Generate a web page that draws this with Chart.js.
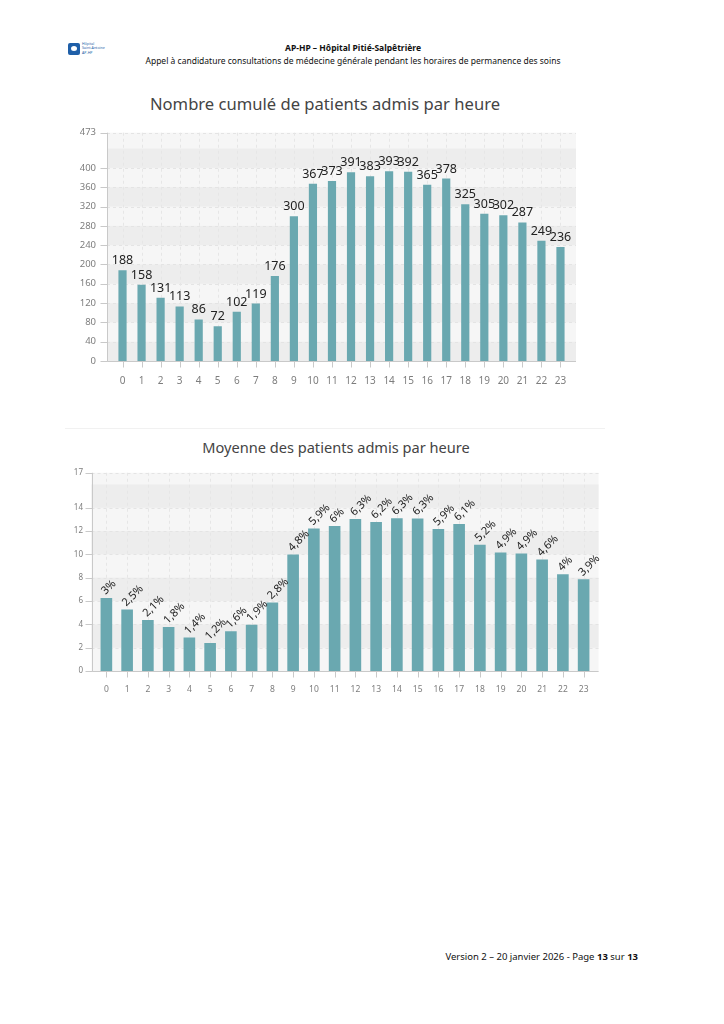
<!DOCTYPE html>
<html lang="fr">
<head>
<meta charset="utf-8">
<script src="https://cdn.jsdelivr.net/npm/chart.js@4.4.1/dist/chart.umd.min.js"></script>
<style>
	body { margin:0; background:#fff; width:724px; height:1024px; position:relative; overflow:hidden; font-family:"Noto Sans", sans-serif; }
	.abs { position:absolute; }
	.head { left:0; width:706px; text-align:center; color:#111; font-size:8.5px; line-height:11px; }
	.title { left:0; text-align:center; color:#444; white-space:nowrap; }
	#logo { left:68px; top:42px; width:42px; height:16px; }
	#logo .sq { position:absolute; left:0; top:1px; width:12px; height:12px; background:#1f5fa8; border-radius:2px; }
	#logo .sq:after { content:""; position:absolute; left:3px; top:3px; width:6px; height:5px; border-radius:50%; background:#fff; }
	#logo .txt { position:absolute; left:14px; top:0; font-size:3.6px; line-height:4.3px; color:#1f5fa8; white-space:nowrap; }
	#foot { right:86px; top:950px; font-size:9.5px; color:#111; white-space:nowrap; }
	#sep { left:65px; top:428px; width:540px; height:0; border-top:1px solid #f1f1f1; }
</style>
</head>
<body>
<div id="logo" class="abs"><div class="sq"></div><div class="txt">Hôpital<br>Saint-Antoine<br>AP-HP</div></div>
<div class="abs head" style="top:42px;font-weight:bold;">AP-HP – Hôpital Pitié-Salpêtrière</div>
<div class="abs head" style="top:55px;">Appel à candidature consultations de médecine générale pendant les horaires de permanence des soins</div>

<div class="abs title" style="top:92px;width:650px;font-size:16.6px;">Nombre cumulé de patients admis par heure</div>
<canvas id="chart1" class="abs" width="560" height="290" style="left:40px;top:110px;"></canvas>

<div id="sep" class="abs"></div>
<div class="abs title" style="top:437px;width:672px;font-size:14.6px;">Moyenne des patients admis par heure</div>
<canvas id="chart2" class="abs" width="600" height="250" style="left:40px;top:455px;"></canvas>

<div id="foot" class="abs">Version 2 – 20 janvier 2026 - Page <b>13</b> sur <b>13</b></div>

<script>
// data
var hours = ["0","1","2","3","4","5","6","7","8","9","10","11","12","13","14","15","16","17","18","19","20","21","22","23"];
var cumulPatients = [188, 158, 131, 113, 86, 72, 102, 119, 176, 300, 367, 373, 391, 383, 393, 392, 365, 378, 325, 305, 302, 287, 249, 236];
var moyennePatients = [6.27, 5.27, 4.37, 3.77, 2.87, 2.40, 3.40, 3.97, 5.87, 10.0, 12.23, 12.43, 13.03, 12.77, 13.1, 13.07, 12.17, 12.6, 10.83, 10.17, 10.07, 9.57, 8.3, 7.87];
var partPatients = [3, 2.5, 2.1, 1.8, 1.4, 1.2, 1.6, 1.9, 2.8, 4.8, 5.9, 6, 6.3, 6.2, 6.3, 6.3, 5.9, 6.1, 5.2, 4.9, 4.9, 4.6, 4, 3.9];
var yTicksCumul = [0, 40, 80, 120, 160, 200, 240, 280, 320, 360, 400, 473];
var yTicksMoyenne = [0, 2, 4, 6, 8, 10, 12, 14, 17];

Chart.defaults.font.family = '"Noto Sans", sans-serif';

/**
 * Bar chart by hour with striped background and labels above the bars
 * @param canvasId
 * @param opt	values, labels, yTicks + layout settings
 */
function do_create_hour_chart(canvasId, opt) {
	var ctx = document.getElementById(canvasId).getContext('2d');

	var backdrop = {
		id: 'backdrop_' + canvasId,
		beforeDatasetsDraw: function(chart) {
			var c = chart.ctx, a = chart.chartArea, sx = chart.scales.x, sy = chart.scales.y;
			var L = a.left - opt.ext, R = a.right + opt.ext;
			var y0 = Math.round(sy.getPixelForValue(sy.min)) + 0.5;
			var yTop = sy.getPixelForValue(sy.max);
			c.save();
			c.fillStyle = "#f6f6f6";
			c.fillRect(L, yTop, R - L, y0 - yTop);
			c.fillStyle = "#ededed";
			for (var v = opt.bandStart; v < sy.max; v += 2 * opt.bandStep) {
				var p1 = sy.getPixelForValue(v), p2 = sy.getPixelForValue(Math.min(v + opt.bandStep, sy.max));
				c.fillRect(L, p2, R - L, p1 - p2);
			}
			c.lineWidth = 1;
			c.setLineDash([3, 3]);
			c.strokeStyle = "#e4e4e4";
			sy.ticks.forEach(function(t) {
				var p = Math.round(sy.getPixelForValue(t.value)) + 0.5;
				c.beginPath(); c.moveTo(L, p); c.lineTo(R, p); c.stroke();
			});
			c.strokeStyle = "#e6e6e6";
			sx.ticks.forEach(function(t, i) {
				var p = Math.round(sx.getPixelForTick(i)) + 0.5;
				c.beginPath(); c.moveTo(p, yTop); c.lineTo(p, y0); c.stroke();
			});
			c.setLineDash([]);
			c.strokeStyle = "#c9c9c9";
			var xl = Math.round(L) + 0.5;
			c.beginPath(); c.moveTo(xl, yTop); c.lineTo(xl, y0); c.lineTo(R, y0); c.stroke();
			sy.ticks.forEach(function(t) {
				var p = Math.round(sy.getPixelForValue(t.value)) + 0.5;
				c.beginPath(); c.moveTo(xl - 7, p); c.lineTo(xl, p); c.stroke();
			});
			sx.ticks.forEach(function(t, i) {
				var p = Math.round(sx.getPixelForTick(i)) + 0.5;
				c.beginPath(); c.moveTo(p, y0); c.lineTo(p, y0 + 6); c.stroke();
			});
			c.restore();
		},
		afterDatasetsDraw: function(chart) {
			var c = chart.ctx;
			var meta = chart.getDatasetMeta(0);
			c.save();
			c.fillStyle = "#222";
			c.font = opt.labelSize + 'px "Noto Sans", sans-serif';
			meta.data.forEach(function(bar, i) {
				var txt = opt.labels[i];
				if (opt.rotate) {
					c.save();
					c.translate(bar.x - 3, bar.y - 5);
					c.rotate(-Math.PI / 4);
					c.textAlign = "left";
					c.textBaseline = "middle";
					c.fillText(txt, 0, 0);
					c.restore();
				} else {
					c.textAlign = "center";
					c.textBaseline = "alphabetic";
					c.fillText(txt, bar.x, bar.y - 6);
				}
			});
			c.restore();
		}
	};

	return new Chart(ctx, {
		type: 'bar',
		data: {
			labels: hours,
			datasets: [{
				data: opt.values,
				backgroundColor: "#6aa8b0",
				barPercentage: opt.barPct,
				categoryPercentage: 1
			}]
		},
		options: {
			responsive: false,
			animation: false,
			layout: { padding: { left: 0, right: opt.padRight, top: opt.padTop, bottom: 0 } },
			plugins: { legend: { display: false }, tooltip: { enabled: false } },
			scales: {
				x: {
					offset: true,
					grid: { display: false, drawTicks: false },
					border: { display: false },
					ticks: { padding: opt.xPad, color: "#7d7d7d", font: { size: opt.xSize }, maxRotation: 0, autoSkip: false },
					afterFit: function(s) { s.height = opt.xHeight; }
				},
				y: {
					min: 0,
					max: opt.yTicks[opt.yTicks.length - 1],
					grid: { display: false, drawTicks: false },
					border: { display: false },
					ticks: { padding: opt.yPad, color: "#7d7d7d", font: { size: opt.ySize }, autoSkip: false },
					afterBuildTicks: function(s) { s.ticks = opt.yTicks.map(function(v) { return { value: v }; }); },
					afterFit: function(s) { s.width = opt.yWidth; }
				}
			}
		},
		plugins: [backdrop]
	});
}

do_create_hour_chart('chart1', {
	values: cumulPatients,
	labels: cumulPatients.map(function(v) { return String(v); }),
	yTicks: yTicksCumul,
	bandStart: 0, bandStep: 40,
	ext: 6, barPct: 0.43,
	yWidth: 73, padRight: 30, padTop: 19, xHeight: 39,
	xPad: 14, yPad: 17, xSize: 10, ySize: 9.5,
	labelSize: 12.5, rotate: false
});

do_create_hour_chart('chart2', {
	values: moyennePatients,
	labels: partPatients.map(function(v) { return String(v).replace('.', ',') + '%'; }),
	yTicks: yTicksMoyenne,
	bandStart: 2, bandStep: 2,
	ext: 4.5, barPct: 0.56,
	yWidth: 56, padRight: 46, padTop: 13, xHeight: 34,
	xPad: 13, yPad: 13, xSize: 8.5, ySize: 8,
	labelSize: 11, rotate: true
});
</script>
</body>
</html>
